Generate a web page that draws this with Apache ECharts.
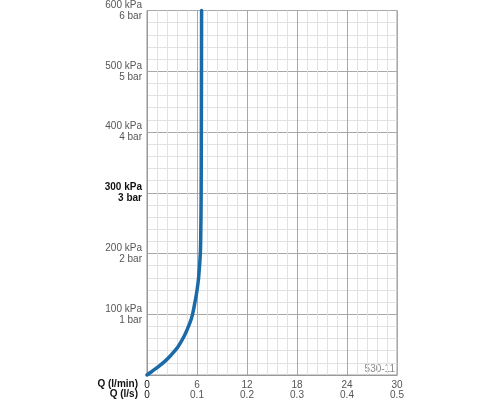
<!doctype html>
<html>
<head>
    <meta charset="utf-8">
    <title>530-11</title>
    <style>
        html, body { margin: 0; padding: 0; background: #fff; }
        #chartEle { width: 500px; height: 400px; }
    </style>
</head>
<body>
<div id="chartEle"></div>
<script src="https://cdn.jsdelivr.net/npm/echarts@6/dist/echarts.min.js"></script>
<script>
    // 流量 Q (l/min) 与 压力 (kPa)
    var qLpmTicks = [0, 6, 12, 18, 24, 30];
    var qLpsTicks = ['0', '0.1', '0.2', '0.3', '0.4', '0.5'];
    var kpaTicks = [100, 200, 300, 400, 500, 600];
    var barTicks = ['1 bar', '2 bar', '3 bar', '4 bar', '5 bar', '6 bar'];
    var curveQ = [0, 0.5, 1.3, 2.1, 2.9, 3.7, 4.5, 5.1, 5.45, 5.8, 6.0, 6.2, 6.4, 6.45, 6.5, 6.55];
    var curveP = [0, 5, 13, 22, 33, 46, 65, 84, 99, 123, 139, 161, 200, 230, 300, 600];

    var font = '"Liberation Sans", Arial, sans-serif';
    var myChart = echarts.init(document.getElementById('chartEle'));

    var curveData = curveQ.map(function (q, i) {
        return [q, curveP[i]];
    });

    var option = {
        animation: false,
        grid: {
            left: 147,
            right: 103,
            top: 8,
            bottom: 25,
            show: true,
            borderColor: '#999',
            borderWidth: 1
        },
        xAxis: {
            type: 'value',
            min: 0,
            max: 30,
            interval: 6,
            axisLine: {show: true, lineStyle: {color: '#999'}},
            axisTick: {show: false},
            splitLine: {show: true, lineStyle: {color: '#a8a8a8', width: 1}},
            minorTick: {show: false, splitNumber: 5},
            minorSplitLine: {show: true, lineStyle: {color: '#e2e2e2', width: 1}},
            axisLabel: {
                margin: 5,
                fontFamily: font,
                formatter: function (v) {
                    var i = qLpmTicks.indexOf(v);
                    if (i < 0) return '';
                    var st = i === 0 ? 'z' : 'a';
                    return '{' + st + '|' + qLpmTicks[i] + '}\n{' + st + '|' + qLpsTicks[i] + '}';
                },
                rich: {
                    a: {fontSize: 10, color: '#555', lineHeight: 10, fontFamily: font},
                    z: {fontSize: 10, color: '#111', lineHeight: 10, fontFamily: font}
                }
            }
        },
        yAxis: {
            type: 'value',
            min: 0,
            max: 600,
            interval: 100,
            axisLine: {show: true, lineStyle: {color: '#999'}},
            axisTick: {show: false},
            splitLine: {show: true, lineStyle: {color: '#a8a8a8', width: 1}},
            minorTick: {show: false, splitNumber: 5},
            minorSplitLine: {show: true, lineStyle: {color: '#e2e2e2', width: 1}},
            axisLabel: {
                margin: 5,
                fontFamily: font,
                align: 'right',
                formatter: function (v) {
                    var i = kpaTicks.indexOf(v);
                    if (i < 0) return '';
                    var st = v === 300 ? 'b' : 'a';
                    return '{' + st + '|' + kpaTicks[i] + ' kPa}\n{' + st + '|' + barTicks[i] + '}';
                },
                rich: {
                    a: {fontSize: 10, color: '#555', lineHeight: 11, align: 'right', fontFamily: font},
                    b: {fontSize: 10, color: '#111', fontWeight: 'bold', lineHeight: 11, align: 'right', fontFamily: font}
                }
            }
        },
        graphic: [{
            type: 'text',
            right: 362,
            top: 379,
            style: {text: 'Q (l/min)', fill: '#111', font: 'bold 10px ' + font}
        }, {
            type: 'text',
            right: 362,
            top: 389,
            style: {text: 'Q (l/s)', fill: '#111', font: 'bold 10px ' + font}
        }, {
            type: 'text',
            right: 105,
            top: 364,
            style: {text: '530-11', fill: '#888', font: '10px ' + font}
        }],
        series: [{
            type: 'line',
            data: curveData,
            smooth: 0.3,
            showSymbol: false,
            clip: false,
            lineStyle: {color: '#1b6aa8', width: 3.5, cap: 'round'},
            itemStyle: {color: '#1b6aa8'}
        }]
    };
    myChart.setOption(option);
</script>
</body>
</html>
